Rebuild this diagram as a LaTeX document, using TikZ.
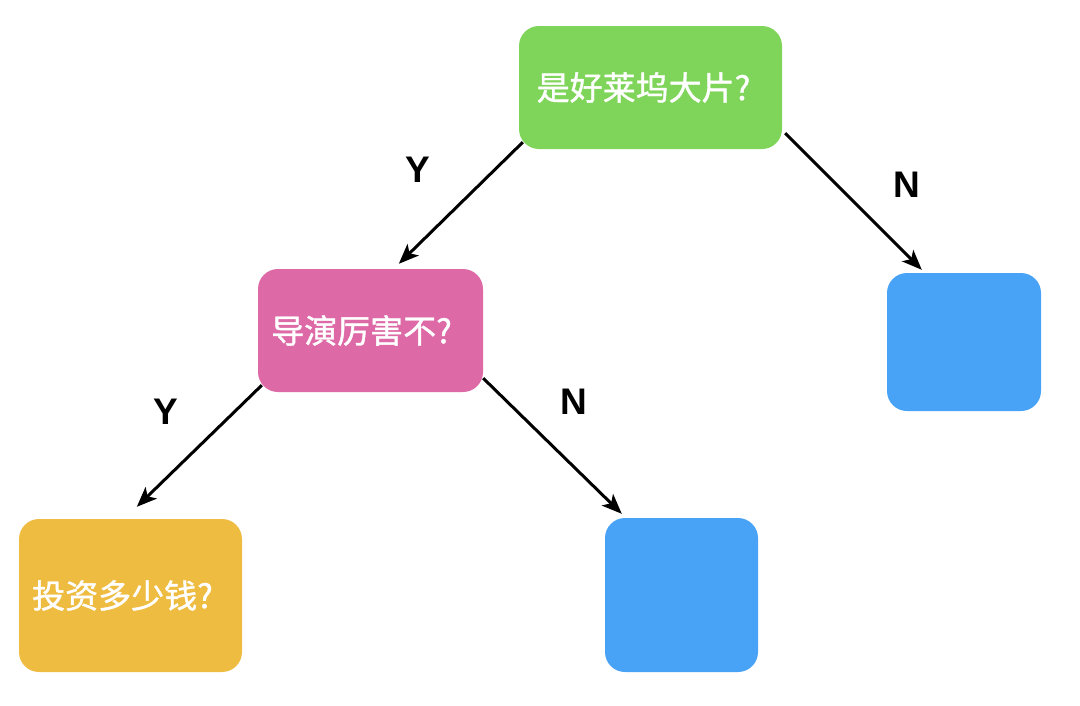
\documentclass[tikz,border=0pt]{standalone}
\usepackage{fontspec}
\setmainfont{Liberation Sans}
\newfontfamily\cjk[FakeBold=1.2]{Noto Sans CJK SC}
\usetikzlibrary{arrows.meta}
\definecolor{cgreen}{HTML}{7FD55A}
\definecolor{cpink}{HTML}{DD69A6}
\definecolor{cblue}{HTML}{48A2F5}
\definecolor{corange}{HTML}{EFBC42}
\tikzset{
  box/.style={rectangle, rounded corners=20pt, inner sep=0pt, text=white,
    font=\cjk\fontsize{33}{38}\selectfont},
  yn/.style={font=\bfseries\fontsize{37}{42}\selectfont, text=black},
  conn/.style={line width=3pt, draw=black,
    -{Stealth[length=20pt,width=16pt,inset=5pt]}}
}
\begin{document}
\begin{tikzpicture}[x=1pt,y=-1pt]
\useasboundingbox (0,0) rectangle (1080,705);
\node[box, fill=cgreen, minimum width=263pt, minimum height=123pt] (g) at (650.5,87.5) {是好莱坞大片?\hspace*{14pt}};
\node[box, fill=cpink, minimum width=225pt, minimum height=123pt] (p) at (370.5,330.5) {导演厉害不?\hspace*{18pt}};
\node[box, fill=cblue, minimum width=154pt, minimum height=138pt] (b1) at (964,342) {};
\node[box, fill=corange, minimum width=223pt, minimum height=153pt] (o) at (130.5,595.5) {投资多少钱?\hspace*{16pt}};
\node[box, fill=cblue, minimum width=153pt, minimum height=154pt] (b2) at (681.5,595) {};
\draw[conn] ([shift={(4,-7)}]g.south west) -- ([shift={(141,-5)}]p.north west);
\draw[conn] ([shift={(3,-16)}]g.south east) -- ([shift={(35,-3)}]b1.north west);
\draw[conn] ([shift={(4,-7)}]p.south west) -- ([shift={(118,-12)}]o.north west);
\draw[conn] ([shift={(0,-14)}]p.south east) -- ([shift={(17,-4)}]b2.north west);
\node[yn] (y1) at (418,170) {Y};
\node[yn] (n1) at (907,185) {N};
\node[yn] (y2) at (166,412) {Y};
\node[yn] (n2) at (574,402) {N};
\end{tikzpicture}
\end{document}
